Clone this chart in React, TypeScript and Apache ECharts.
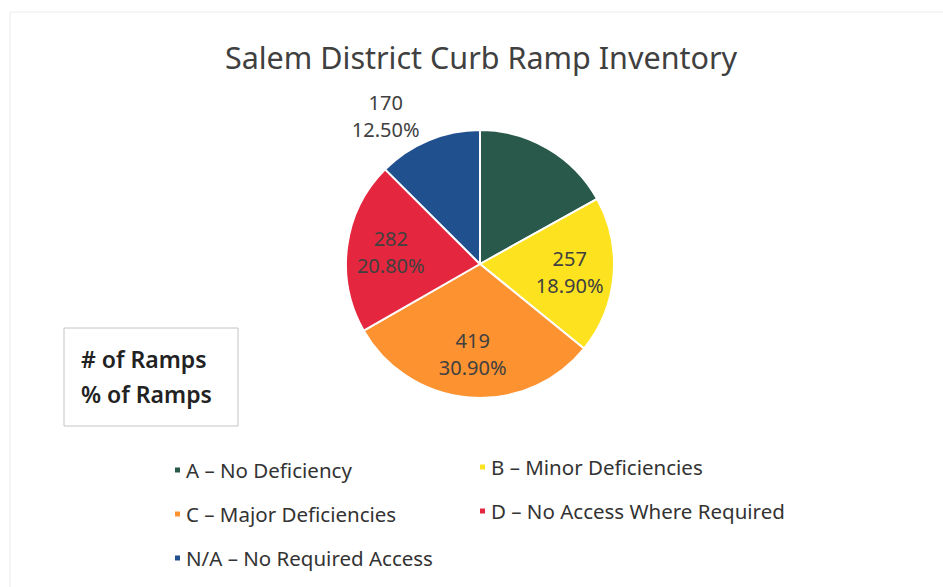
import React, { useEffect, useRef } from 'react';
import * as echarts from 'echarts';

const titleText = 'Salem District Curb Ramp Inventory';
const categories = [
  'A – No Deficiency',
  'B – Minor Deficiencies',
  'C – Major Deficiencies',
  'D – No Access Where Required',
  'N/A – No Required Access',
];
const rampCounts = [230, 257, 419, 282, 170];
const sliceColors = ['#29594a', '#fde21f', '#fd9231', '#e4273e', '#21508e'];
const labelHidden = [true, false, false, false, false];
const labelOutside = [false, false, false, false, true];
const leftLegendNames = [categories[0], categories[2], categories[4]];
const rightLegendNames = [categories[1], categories[3]];
const boxLines = ['# of Ramps', '% of Ramps'];

const FONT = 'Noto Sans';

export default function App() {
  const ref = useRef<HTMLDivElement>(null);
  useEffect(() => {
    document.body.style.margin = '0';
    const chart = echarts.init(ref.current!, null, { renderer: 'svg' });
    const colorOf = (n: string) => sliceColors[categories.indexOf(n)];
    const legendBase = {
      orient: 'vertical',
      icon: 'rect',
      itemWidth: 7,
      itemHeight: 7,
      itemGap: 20,
      textStyle: { fontFamily: FONT, fontSize: 20.5, color: '#333', lineHeight: 24 },
      selectedMode: false,
    };
    chart.setOption({
      animation: false,
      backgroundColor: '#fff',
      title: {
        text: titleText,
        left: 476,
        textAlign: 'center',
        top: 36,
        textStyle: { fontFamily: FONT, fontSize: 30.5, fontWeight: 'normal', color: '#404040' },
      },
      legend: [
        {
          ...legendBase,
          left: 168,
          top: 453,
          data: leftLegendNames.map((n) => ({ name: n, itemStyle: { color: colorOf(n) } })),
        },
        {
          ...legendBase,
          left: 473,
          top: 450,
          data: rightLegendNames.map((n) => ({ name: n, itemStyle: { color: colorOf(n) } })),
        },
      ],
      graphic: [
        {
          type: 'rect',
          shape: { x: 10, y: 12, width: 940, height: 590 },
          style: { fill: 'none', stroke: '#ececec', lineWidth: 1 },
        },
        {
          type: 'rect',
          shape: { x: 64, y: 328, width: 174, height: 98 },
          style: { fill: '#fff', stroke: '#c4c4c4', lineWidth: 1 },
        },
        ...boxLines.map((t, i) => ({
          type: 'text',
          x: 81,
          y: 359 + i * 35,
          style: {
            text: t,
            fontFamily: FONT,
            fontSize: 23,
            fontWeight: 600,
            fill: '#222',
            verticalAlign: 'middle',
          },
        })),
      ],
      series: [
        {
          type: 'pie',
          center: [480, 264],
          radius: 134,
          startAngle: 90,
          clockwise: true,
          silent: true,
          label: { show: false },
          labelLine: { show: false },
          itemStyle: { borderColor: '#fff', borderWidth: 2 },
          data: categories.map((n, i) => ({
            name: n,
            value: rampCounts[i],
            itemStyle: { color: sliceColors[i] },
          })),
        },
        {
          type: 'pie',
          center: [480, 264],
          radius: [40, 134],
          startAngle: 90,
          clockwise: true,
          silent: true,
          itemStyle: { color: 'rgba(0,0,0,0)', borderWidth: 0 },
          label: {
            show: true,
            position: 'inside',
            fontFamily: FONT,
            fontSize: 20,
            color: '#404040',
            lineHeight: 27,
            formatter: (p: any) => {
              const pct = (Math.round(p.percent * 10) / 10).toFixed(2) + '%';
              return '{c|' + p.value + '}\n{c|' + pct + '}';
            },
            rich: {
              c: { width: 56, align: 'center', fontFamily: FONT, fontSize: 20, color: '#404040', lineHeight: 27 },
            },
          },
          labelLine: { show: false },
          data: categories.map((n, i) => ({
            name: n,
            value: rampCounts[i],
            label: labelHidden[i]
              ? { show: false }
              : labelOutside[i]
              ? { position: 'outside' }
              : { position: 'inside' },
            labelLine: labelOutside[i] ? { show: false, length: 26, length2: 0 } : { show: false },
          })),
        },
      ],
    });
    return () => chart.dispose();
  }, []);
  return <div ref={ref} style={{ width: 943, height: 587 }} />;
}
